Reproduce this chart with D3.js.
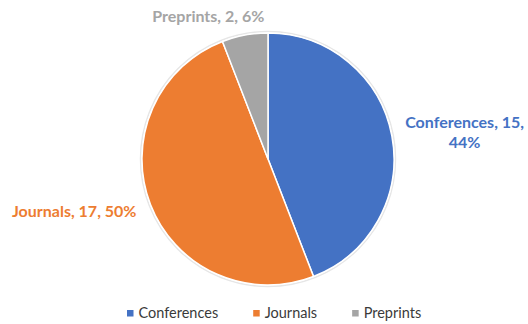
<!DOCTYPE html>
<html>
<head>
<meta charset="utf-8">
<script src="https://cdn.jsdelivr.net/npm/d3@7"></script>
<style>
  html, body { margin: 0; padding: 0; background: #fff; }
  svg { display: block; font-family: Lato, "Open Sans", sans-serif; }
</style>
</head>
<body>
<svg id="chart" width="528" height="324"></svg>
<script>
// Publication venues
const categories = ["Conferences", "Journals", "Preprints"];
const counts = [15, 17, 2];
const colors = ["#4472C4", "#ED7D31", "#A5A5A5"];

const W = 528, H = 324;
const cx = 268, cy = 159, R = 126;

const svg = d3.select("#chart");

const total = d3.sum(counts);
const data = categories.map((c, i) => ({ name: c, value: counts[i], color: colors[i] }));

const pie = d3.pie().sort(null).value(d => d.value);
const arcs = pie(data);
const arc = d3.arc().innerRadius(0).outerRadius(R);

const g = svg.append("g").attr("transform", `translate(${cx},${cy})`);

// soft rim around the pie
g.append("circle").attr("r", R + 1.5).attr("fill", "none")
  .attr("stroke", "#e6e6e6").attr("stroke-width", 1.5);

g.selectAll("path.slice").data(arcs).join("path")
  .attr("class", "slice")
  .attr("d", arc)
  .attr("fill", d => d.data.color)
  .attr("stroke", "#fff")
  .attr("stroke-width", 1.5)
  .attr("stroke-linejoin", "round");

// data labels: "name, count, percent" outside each slice
const pct = v => Math.round(v / total * 100) + "%";
const labelPlacement = {
  Conferences: { r: 140, anchor: "middle", dx: 59, dy: -5, wrap: true },
  Journals:    { r: 140, anchor: "end",    dx: -1, dy: 7,  wrap: false },
  Preprints:   { r: 140, anchor: "middle", dx: -34, dy: 1, wrap: false }
};

arcs.forEach(a => {
  const p = labelPlacement[a.data.name];
  const mid = (a.startAngle + a.endAngle) / 2;
  const x = Math.sin(mid) * p.r + p.dx;
  const y = -Math.cos(mid) * p.r + p.dy;
  const lines = p.wrap
    ? [`${a.data.name}, ${a.data.value},`, pct(a.data.value)]
    : [`${a.data.name}, ${a.data.value}, ${pct(a.data.value)}`];
  lines.forEach((line, i) => {
    g.append("text")
      .attr("x", x).attr("y", y + i * 20)
      .attr("text-anchor", p.anchor)
      .attr("fill", a.data.color)
      .attr("font-weight", 700)
      .attr("font-size", 16)
      .text(line);
  });
});

// legend: items laid out left to right by their measured widths
const lg = svg.append("g").attr("transform", "translate(127,318)");
let offset = 0;
data.forEach(d => {
  const item = lg.append("g").attr("transform", `translate(${offset},0)`);
  item.append("rect").attr("x", 0).attr("y", -8).attr("width", 6.5).attr("height", 6.5)
    .attr("fill", d.color);
  const txt = item.append("text").attr("x", 11.5).attr("y", 0)
    .attr("font-size", 14.5).attr("fill", "#3a3a3a")
    .text(d.name);
  offset += 11.5 + txt.node().getComputedTextLength() + 35;
});
</script>
</body>
</html>
